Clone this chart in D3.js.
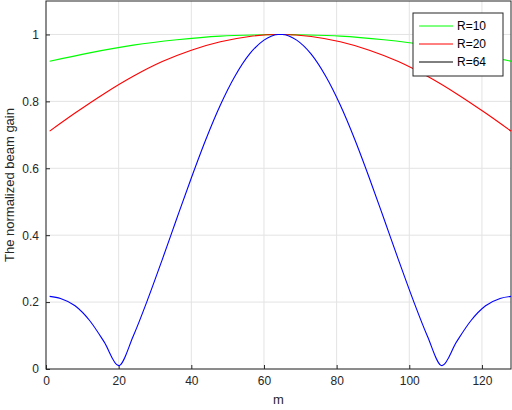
<!doctype html>
<html><head><meta charset="UTF-8">
<script src="https://cdn.jsdelivr.net/npm/d3@7"></script>
<style>body{margin:0;background:#fff;font-family:Arial,"Liberation Sans",sans-serif}</style>
</head><body><svg id="c" width="512" height="410"></svg>
<script>
// values
var mBlue = [1,4,8,12,16,20,24,28,32,36,40,44,48,52,56,60,64,65,69,73,77,81,85,89,93,97,101,105,109,113,117,121,125,128];
var gBlue = [0.217,0.211,0.189,0.145,0.081,0.01,0.098,0.208,0.327,0.450,0.571,0.686,0.789,0.875,0.941,0.983,1,1,0.983,0.941,0.875,0.789,0.686,0.571,0.450,0.327,0.208,0.098,0.01,0.081,0.145,0.189,0.211,0.217];
var mGreen = [1,12,24,36,48,60,64,65,69,81,93,105,117,128];
var gGreen = [0.92,0.945,0.968,0.984,0.995,0.999,1,1,0.999,0.995,0.984,0.968,0.945,0.92];
var mRed = [1,8,16,24,32,40,48,56,64,65,73,81,89,97,105,113,121,128];
var gRed = [0.711,0.765,0.823,0.875,0.919,0.953,0.978,0.994,1,1,0.994,0.978,0.953,0.919,0.875,0.823,0.765,0.711];
var xTicks = [0,20,40,60,80,100,120];
var yTicks = [0,0.2,0.4,0.6,0.8,1];
var legendNames = ["R=10","R=20","R=64"];
var legendColors = ["#00ff00","#ff0000","#000000"];

var L=46,R=511,T=1,B=369;
var svg=d3.select("#c");
var x=d3.scaleLinear().domain([0,128]).range([L,R]);
var y=d3.scaleLinear().domain([0,1.1]).range([B,T]);

svg.append("g").selectAll("line").data(xTicks).join("line")
  .attr("x1",d=>x(d)).attr("x2",d=>x(d)).attr("y1",T).attr("y2",B).attr("stroke","#e3e3e3");
svg.append("g").selectAll("line").data(yTicks).join("line")
  .attr("y1",d=>y(d)).attr("y2",d=>y(d)).attr("x1",L).attr("x2",R).attr("stroke","#e3e3e3");

var xa=svg.append("g").attr("transform","translate(0,"+B+")").call(d3.axisBottom(x).tickValues(xTicks).tickSize(-4).tickPadding(7));
var ya=svg.append("g").attr("transform","translate("+L+",0)").call(d3.axisLeft(y).tickValues(yTicks).tickFormat(d3.format("~g")).tickSize(-4).tickPadding(7));
[xa,ya].forEach(a=>{a.select(".domain").remove();a.selectAll("line").attr("stroke","#262626");a.selectAll("text").attr("font-size",12).attr("fill","#262626").attr("font-family","Arial,'Liberation Sans',sans-serif");});
svg.append("rect").attr("x",L).attr("y",T).attr("width",R-L).attr("height",B-T).attr("fill","none").attr("stroke","#262626");

var line=d3.line().curve(d3.curveMonotoneX).x(d=>x(d[0])).y(d=>y(d[1]));
function draw(ms,gs,col){svg.append("path").attr("d",line(d3.zip(ms,gs))).attr("fill","none").attr("stroke",col).attr("stroke-width",1.1);}
draw(mGreen,gGreen,"#00ff00");
draw(mRed,gRed,"#ff0000");
draw(mBlue,gBlue,"#0000ff");

svg.append("text").attr("x",(L+R)/2).attr("y",404).attr("text-anchor","middle").attr("font-size",13).attr("fill","#262626").text("m");
svg.append("text").attr("transform","translate(14,"+(T+B)/2+") rotate(-90)").attr("text-anchor","middle").attr("font-size",13).attr("fill","#262626").text("The normalized beam gain");

var lg=svg.append("g").attr("transform","translate(413,13)");
lg.append("rect").attr("width",90).attr("height",63).attr("fill","#fff").attr("stroke","#262626");
legendNames.forEach(function(n,i){
  var yy=13+i*18;
  lg.append("line").attr("x1",6).attr("x2",40).attr("y1",yy).attr("y2",yy).attr("stroke",legendColors[i]);
  lg.append("text").attr("x",44).attr("y",yy+4).attr("font-size",12).attr("fill","#000").text(n);
});
</script></body></html>
